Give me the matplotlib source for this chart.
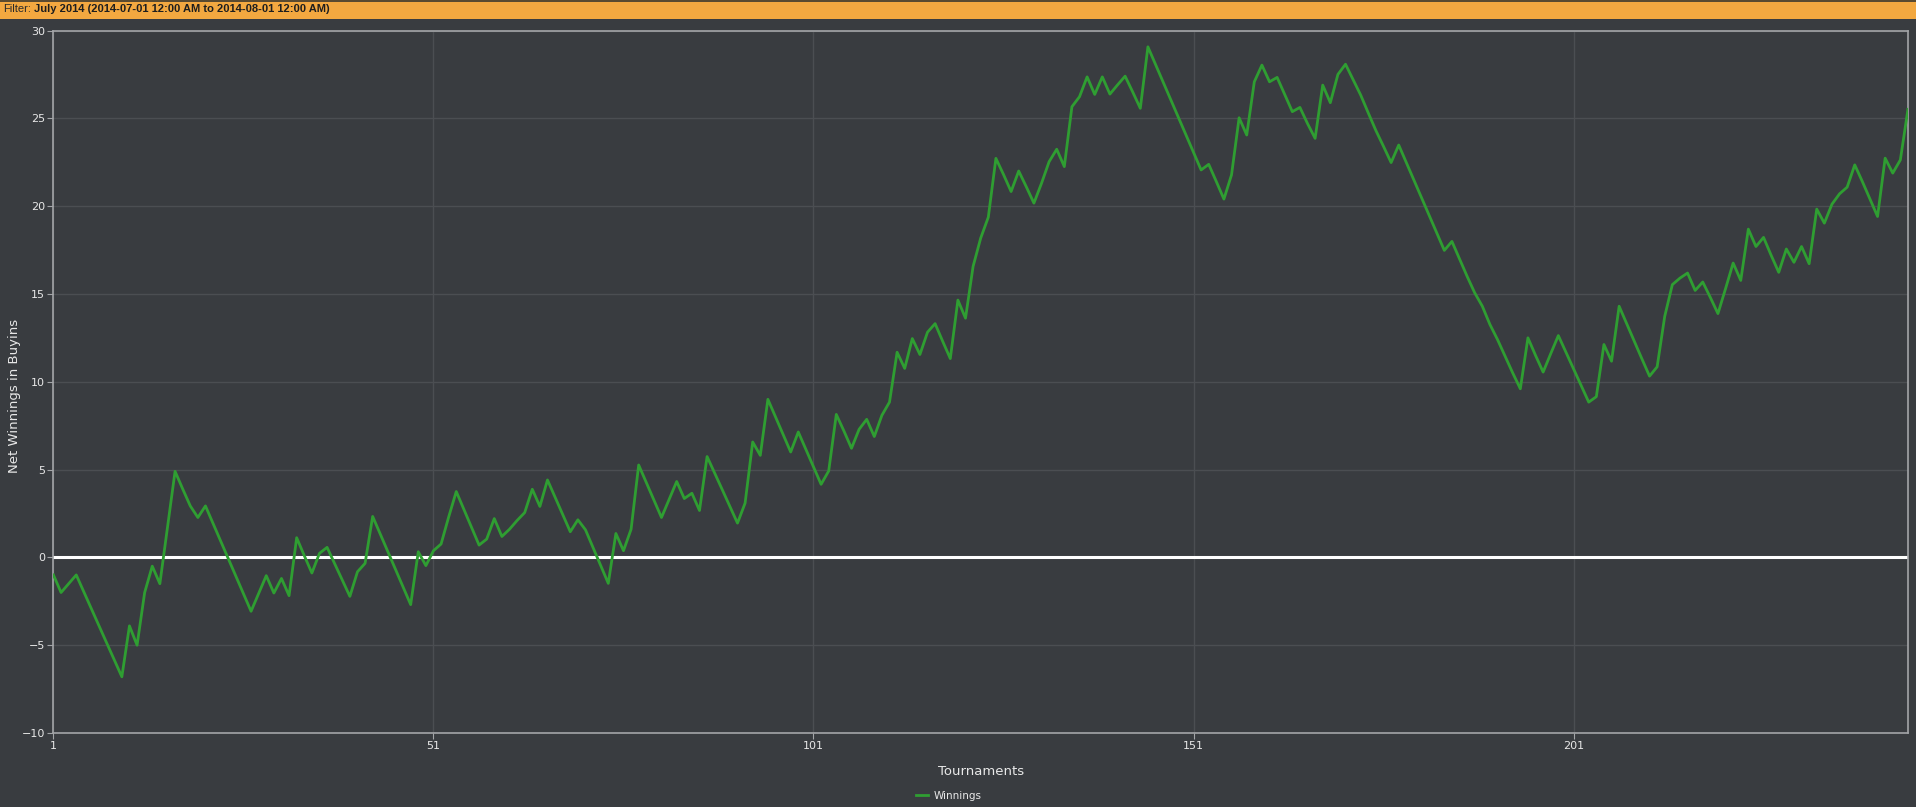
import matplotlib
matplotlib.use("Agg")
import matplotlib.pyplot as plt
from matplotlib.transforms import offset_copy
import numpy as np

# net winnings (in buyins) after each tournament
winnings = [
    -1.0, -2.0, -1.5, -1.0, -1.97, -2.93, -3.9, -4.87, -5.83, -6.8,
    -3.9, -5.0, -2.0, -0.5, -1.5, 1.7, 4.9, 3.9, 2.93, 2.27,
    2.93, 1.93, 0.93, -0.07, -1.07, -2.07, -3.07, -2.05, -1.04, -2.03,
    -1.2, -2.18, 1.12, 0.1, -0.89, 0.23, 0.57, -0.36, -1.3, -2.22,
    -0.82, -0.34, 2.33, 1.33, 0.32, -0.68, -1.69, -2.69, 0.32, -0.47,
    0.38, 0.76, 2.3, 3.75, 2.73, 1.72, 0.70, 1.04, 2.21, 1.19,
    1.6, 2.1, 2.55, 3.88, 2.9, 4.41, 3.43, 2.44, 1.46, 2.14,
    1.57, 0.55, -0.47, -1.48, 1.36, 0.38, 1.6, 5.26, 4.26, 3.27,
    2.27, 3.3, 4.32, 3.35, 3.65, 2.67, 5.74, 4.8, 3.85, 2.9,
    1.95, 3.09, 6.57, 5.81, 9.0, 8.0, 7.0, 6.0, 7.14, 6.15,
    5.15, 4.16, 4.92, 8.14, 7.2, 6.21, 7.29, 7.86, 6.88, 8.09,
    8.84, 11.68, 10.76, 12.46, 11.55, 12.82, 13.31, 12.3, 11.32, 14.65,
    13.62, 16.57, 18.18, 19.37, 22.72, 21.8, 20.83, 22.0, 21.1, 20.17,
    21.3, 22.53, 23.24, 22.25, 25.66, 26.23, 27.36, 26.36, 27.36, 26.38,
    26.9, 27.4, 26.5, 25.57, 29.07, 28.07, 27.07, 26.06, 25.06, 24.06,
    23.06, 22.06, 22.38, 21.4, 20.4, 21.78, 25.03, 24.05, 27.08, 28.03,
    27.08, 27.33, 26.35, 25.38, 25.62, 24.7, 23.86, 26.89, 25.89, 27.5,
    28.08, 27.2, 26.32, 25.3, 24.3, 23.4, 22.48, 23.48, 22.48, 21.48,
    20.48, 19.48, 18.48, 17.48, 17.99, 17.0, 16.0, 15.06, 14.3, 13.26,
    12.4, 11.45, 10.5, 9.6, 12.5, 11.5, 10.55, 11.6, 12.63, 11.68,
    10.73, 9.79, 8.84, 9.15, 12.12, 11.17, 14.3, 13.3, 12.3, 11.3,
    10.32, 10.85, 13.73, 15.53, 15.9, 16.19, 15.2, 15.68, 14.8, 13.88,
    15.3, 16.76, 15.77, 18.69, 17.7, 18.22, 17.2, 16.23, 17.56, 16.8,
    17.7, 16.72, 19.83, 19.03, 20.11, 20.7, 21.08, 22.35, 21.4, 20.4,
    19.41, 22.73, 21.88, 22.63, 25.51,
]
tournaments = np.arange(1, len(winnings) + 1)

x_ticks = [1, 51, 101, 151, 201]
y_ticks = [-10, -5, 0, 5, 10, 15, 20, 25, 30]

filter_label = "July 2014 (2014-07-01 12:00 AM to 2014-08-01 12:00 AM)"

bg = "#393c40"
grid_col = "#4b4e52"
spine_col = "#a3a5a8"
text_col = "#e8e8e8"
green = "#2f9e32"

plt.rcParams['font.family'] = ['DejaVu Sans']

fig = plt.figure(figsize=(19.16, 8.07), dpi=100, facecolor=bg)
ax = fig.add_axes([0.0279, 0.0917, 0.9679, 0.8705], facecolor=bg)

ax.plot(tournaments, winnings, color=green, lw=2.0, label="Winnings", zorder=3)
ax.axhline(0, color="white", lw=2.2, zorder=2)

ax.set_xlim(1, len(winnings))
ax.set_ylim(-10, 30)
ax.set_xticks(x_ticks)
ax.set_yticks(y_ticks)
ax.grid(True, color=grid_col, lw=1.0, zorder=0)

for s in ax.spines.values():
    s.set_color(spine_col)
    s.set_linewidth(1.2)
ax.tick_params(colors=text_col, labelsize=8, length=4, width=0.8,
               color=spine_col, pad=2)

ax.set_xlabel("Tournaments", color=text_col, fontsize=9.5)
ax.xaxis.set_label_coords(0.5, -0.045)
ax.set_ylabel("Net Winnings in Buyins", color=text_col, fontsize=9.5)
ax.yaxis.set_label_coords(-0.0175, 0.48)

leg = fig.legend(loc="center", bbox_to_anchor=(0.495, 0.014), frameon=False,
                 fontsize=7.5, handlelength=1.2, handletextpad=0.5)
for t in leg.get_texts():
    t.set_color(text_col)

# orange filter strip along the top
fig.patches.append(plt.Rectangle((0, 0.976), 1, 0.024, transform=fig.transFigure,
                                 facecolor="#f3a840", edgecolor="none", zorder=0))
fig.patches.append(plt.Rectangle((0, 0.997), 1, 0.003, transform=fig.transFigure,
                                 facecolor="#5a4a30", edgecolor="none", zorder=1))
lead = fig.text(0.0015, 0.9885, "Filter:", fontsize=8, color="#2a2a2a", va="center",
                family="Liberation Sans")
fig.canvas.draw()
w = lead.get_window_extent().width
fig.text(0.0015, 0.9885, filter_label, fontsize=8, color="#1e1e1e",
         fontweight="bold", va="center", family="Liberation Sans",
         transform=offset_copy(fig.transFigure, fig=fig, x=w + 3, y=0, units="dots"))

fig.savefig("out.png", dpi=100, facecolor=bg)
